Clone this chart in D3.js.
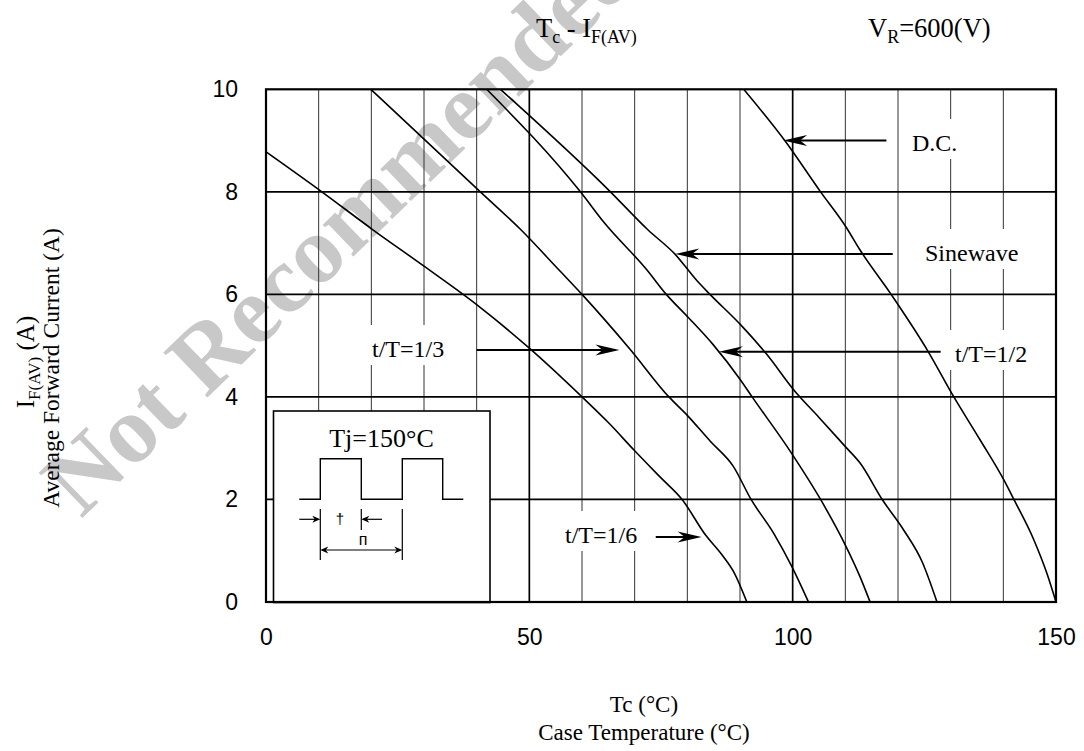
<!DOCTYPE html>
<html>
<head>
<meta charset="utf-8">
<script src="https://cdn.jsdelivr.net/npm/d3@7"></script>
<style>
  html, body { margin: 0; padding: 0; background: #ffffff; }
  svg { display: block; }
</style>
</head>
<body>
<svg id="chart" width="1084" height="751"></svg>
<script>
// Tc - IF(AV) current derating, VR = 600 V, Tj = 150 °C

// axis ticks and grid
const xTickValues = [0, 50, 100, 150];
const yTickValues = [0, 2, 4, 6, 8, 10];
const xGridValues = [10, 20, 30, 40, 50, 60, 70, 80, 90, 100, 110, 120, 130, 140];
const xGridMajor = [50, 100];
const yGridValues = [2, 4, 6, 8];

// case temperature (°C) / average forward current (A), one pair per curve
const dcTc    = [90.7, 98.5, 105.3, 110.1, 112.7, 118.7, 125.7, 130.6, 135.6, 140.1, 142.0, 145.8, 148.3, 150.0];
const dcIf    = [10.0, 9.0, 8.0, 7.32, 6.88, 6.0, 4.89, 4.0, 3.16, 2.38, 2.0, 1.21, 0.55, 0.0];

const sineTc  = [44.5, 65.4, 72.5, 77.7, 81.8, 84.3, 90.1, 95.0, 100.5, 105.0, 110.0, 112.8, 117.0, 121.1, 124.6, 127.4];
const sineIf  = [10.0, 8.0, 7.26, 6.78, 6.27, 6.0, 5.41, 4.84, 4.1, 3.6, 3.03, 2.71, 2.0, 1.40, 0.78, 0.0];

const halfTc  = [41.9, 59.7, 64.2, 72.3, 76.0, 80.0, 84.9, 90.1, 92.3, 99.8, 105.3, 110.0, 112.8, 114.7];
const halfIf  = [10.0, 8.0, 7.4, 6.48, 6.0, 5.57, 5.02, 4.33, 4.0, 2.90, 2.0, 1.11, 0.49, 0.0];

const thirdTc = [19.9, 40.7, 48.4, 55.6, 60.0, 69.2, 76.5, 79.9, 84.4, 88.7, 92.1, 96.4, 99.9, 103.0];
const thirdIf = [10.0, 8.0, 7.26, 6.48, 6.0, 4.92, 4.0, 3.65, 3.13, 2.65, 2.0, 1.34, 0.68, 0.0];

const sixthTc = [0.0, 10.6, 20.3, 30.0, 40.0, 50.0, 60.0, 65.0, 70.0, 75.0, 79.0, 83.5, 86.5, 89.0, 91.3];
const sixthIf = [8.78, 8.0, 7.26, 6.55, 5.8, 4.95, 4.0, 3.5, 2.95, 2.42, 2.0, 1.30, 0.93, 0.55, 0.0];

const seriesNames = ["D.C.", "Sinewave", "t/T=1/2", "t/T=1/3", "t/T=1/6"];
const seriesTc = [dcTc, sineTc, halfTc, thirdTc, sixthTc];
const seriesIf = [dcIf, sineIf, halfIf, thirdIf, sixthIf];

// ---------------------------------------------------------------
const svg = d3.select("#chart");
const W = 1084, H = 751;
const plot = { left: 266, right: 1056, top: 89.3, bottom: 602 };

const x = d3.scaleLinear().domain([0, 150]).range([plot.left, plot.right]);
const y = d3.scaleLinear().domain([0, 10]).range([plot.bottom, plot.top]);

const SERIF = "'Liberation Serif', 'Times New Roman', serif";
const SANS = "'Liberation Sans', Arial, sans-serif";

svg.append("rect").attr("width", W).attr("height", H).attr("fill", "#ffffff");

// watermark (behind everything)
svg.append("text")
  .attr("transform", "translate(362,248) rotate(-44)")
  .attr("text-anchor", "middle")
  .attr("font-family", SERIF)
  .attr("font-weight", "bold")
  .attr("font-size", 96)
  .attr("fill", "#c8c8c8")
  .text("Not Recommended");

const defs = svg.append("defs");
defs.append("clipPath").attr("id", "plot-clip")
  .append("rect")
  .attr("x", plot.left).attr("y", plot.top)
  .attr("width", plot.right - plot.left).attr("height", plot.bottom - plot.top);

// grid
const grid = svg.append("g");
grid.selectAll("line.vg").data(xGridValues).join("line")
  .attr("class", "vg")
  .attr("x1", d => x(d)).attr("x2", d => x(d))
  .attr("y1", plot.top).attr("y2", plot.bottom)
  .attr("stroke", d => xGridMajor.includes(d) ? "#000" : "#333")
  .attr("stroke-width", d => xGridMajor.includes(d) ? 1.7 : 1);
grid.selectAll("line.hg").data(yGridValues).join("line")
  .attr("class", "hg")
  .attr("x1", plot.left).attr("x2", plot.right)
  .attr("y1", d => y(d)).attr("y2", d => y(d))
  .attr("stroke", "#000").attr("stroke-width", 1.7);

// tick labels through d3 axes (no tick marks, no domain path)
const xAxis = svg.append("g")
  .attr("transform", `translate(0,${plot.bottom})`)
  .call(d3.axisBottom(x).tickValues(xTickValues).tickSize(0).tickPadding(27).tickFormat(d3.format("d")));
const yAxis = svg.append("g")
  .attr("transform", `translate(${plot.left},0)`)
  .call(d3.axisLeft(y).tickValues(yTickValues).tickSize(0).tickPadding(28).tickFormat(d3.format("d")));
[xAxis, yAxis].forEach(a => {
  a.select(".domain").remove();
  a.selectAll("text").attr("font-family", SANS).attr("font-size", 23).attr("fill", "#000");
});

// curve labels with white backing that interrupts the grid
const annotations = [
  { name: "D.C.",     tx: 912, ty: 151, tail: [117.8, 9.0],  tip: [98.2, 9.0] },
  { name: "Sinewave", tx: 925, ty: 261, tail: [119.0, 6.79], tip: [77.7, 6.79] },
  { name: "t/T=1/2",  tx: 955, ty: 362, tail: [128.1, 4.88], tip: [86.0, 4.88] },
  { name: "t/T=1/3",  tx: 372, ty: 357, tail: [40.0, 4.915], tip: [67.1, 4.915] },
  { name: "t/T=1/6",  tx: 565, ty: 543, tail: [74.0, 1.27],  tip: [82.7, 1.27] }
];

const ann = svg.append("g");
annotations.forEach(a => {
  const t = ann.append("text")
    .attr("x", a.tx).attr("y", a.ty)
    .attr("font-family", SERIF).attr("font-size", 24).attr("fill", "#000")
    .text(a.name);
  const bb = t.node().getBBox();
  ann.insert("rect", "text")
    .attr("x", bb.x - 12).attr("y", a.ty - 32)
    .attr("width", bb.width + 24).attr("height", 40)
    .attr("fill", "#fff");
});

// inset: Tj and pulse waveform definition
const inset = svg.append("g");
inset.append("rect")
  .attr("x", 273.5).attr("y", 411).attr("width", 216.5).attr("height", 191.5)
  .attr("fill", "#fff").attr("stroke", "#000").attr("stroke-width", 1.6);
inset.append("text")
  .attr("x", 381.5).attr("y", 447).attr("text-anchor", "middle")
  .attr("font-family", SERIF).attr("font-size", 26).attr("fill", "#000")
  .text("Tj=150°C");
const lo = 499.3, hi = 458.7;
const e = [299.3, 320.3, 361.3, 402.3, 442.7, 463.3];
inset.append("path")
  .attr("d", `M${e[0]},${lo}H${e[1]}V${hi}H${e[2]}V${lo}H${e[3]}V${hi}H${e[4]}V${lo}H${e[5]}`)
  .attr("fill", "none").attr("stroke", "#000").attr("stroke-width", 1.4);
inset.append("path")
  .attr("d", `M${e[1]},509V560M${e[2]},509V530M${e[3]},509V560`)
  .attr("fill", "none").attr("stroke", "#000").attr("stroke-width", 1.2);

function arrowHead(g, tipX, tipY, dir, len, half) {
  // dir: +1 points right, -1 points left
  const bx = tipX - dir * len, nx = tipX - dir * len * 0.7;
  g.append("path")
    .attr("d", `M${tipX},${tipY}L${bx},${tipY - half}L${nx},${tipY}L${bx},${tipY + half}Z`)
    .attr("fill", "#000");
}
inset.append("line").attr("x1", 299.3).attr("x2", 318).attr("y1", 519.3).attr("y2", 519.3)
  .attr("stroke", "#000").attr("stroke-width", 1.2);
arrowHead(inset, 320.3, 519.3, 1, 8, 3.5);
inset.append("line").attr("x1", 382).attr("x2", 363).attr("y1", 519.3).attr("y2", 519.3)
  .attr("stroke", "#000").attr("stroke-width", 1.2);
arrowHead(inset, 361.3, 519.3, -1, 8, 3.5);
inset.append("line").attr("x1", 322).attr("x2", 400).attr("y1", 550).attr("y2", 550)
  .attr("stroke", "#000").attr("stroke-width", 1.2);
arrowHead(inset, 320.3, 550, -1, 8, 3.5);
arrowHead(inset, 402.3, 550, 1, 8, 3.5);
inset.append("text").attr("x", 340).attr("y", 524).attr("text-anchor", "middle")
  .attr("font-family", SANS).attr("font-size", 15).attr("fill", "#000").text("†");
inset.append("text").attr("x", 363).attr("y", 545).attr("text-anchor", "middle")
  .attr("font-family", SANS).attr("font-size", 16).attr("fill", "#000").text("п");

// plot border
svg.append("rect")
  .attr("x", plot.left).attr("y", plot.top)
  .attr("width", plot.right - plot.left).attr("height", plot.bottom - plot.top)
  .attr("fill", "none").attr("stroke", "#000").attr("stroke-width", 2.2);

// derating curves
const line = d3.line()
  .x(d => x(d[0])).y(d => y(d[1]))
  .curve(d3.curveMonotoneX);
const curves = svg.append("g").attr("clip-path", "url(#plot-clip)");
seriesNames.forEach((name, i) => {
  const pts = seriesTc[i].map((t, k) => [t, seriesIf[i][k]]);
  curves.append("path")
    .datum(pts)
    .attr("d", line)
    .attr("fill", "none")
    .attr("stroke", "#000")
    .attr("stroke-width", 1.6);
});

// annotation arrows
annotations.forEach(a => {
  const x0 = x(a.tail[0]), x1 = x(a.tip[0]), yy = y(a.tip[1]);
  const dir = x1 > x0 ? 1 : -1;
  ann.append("line")
    .attr("x1", x0).attr("x2", x1 - dir * 14)
    .attr("y1", yy).attr("y2", yy)
    .attr("stroke", "#000").attr("stroke-width", 2);
  arrowHead(ann, x1, yy, dir, 24, 5.5);
});

// titles
function subText(g, xPos, yPos, parts, size, anchor) {
  const t = g.append("text")
    .attr("x", xPos).attr("y", yPos)
    .attr("font-family", SERIF).attr("font-size", size).attr("fill", "#000")
    .attr("text-anchor", anchor || "start");
  let shifted = false;
  parts.forEach(p => {
    const ts = t.append("tspan").text(p.s);
    if (p.sub && !shifted) { ts.attr("font-size", size * 0.68).attr("dy", size * 0.22); shifted = true; }
    else if (!p.sub && shifted) { ts.attr("font-size", size).attr("dy", -size * 0.22); shifted = false; }
  });
  return t;
}
const titles = svg.append("g");
subText(titles, 536, 37, [{ s: "T" }, { s: "c", sub: true }, { s: " - I" }, { s: "F(AV)", sub: true }], 26.5);
subText(titles, 868, 37, [{ s: "V" }, { s: "R", sub: true }, { s: "=600(V)" }], 26.5);

titles.append("text")
  .attr("x", 644).attr("y", 712).attr("text-anchor", "middle")
  .attr("font-family", SERIF).attr("font-size", 23).attr("fill", "#000")
  .text("Tc (°C)");
titles.append("text")
  .attr("x", 644).attr("y", 740).attr("text-anchor", "middle")
  .attr("font-family", SERIF).attr("font-size", 23).attr("fill", "#000")
  .text("Case Temperature (°C)");

const yt1 = titles.append("g").attr("transform", "translate(34,362) rotate(-90)");
subText(yt1, 0, 0, [{ s: "I" }, { s: "F(AV)", sub: true }, { s: " (A)" }], 25, "middle");
titles.append("text")
  .attr("transform", "translate(59,368) rotate(-90)")
  .attr("text-anchor", "middle")
  .attr("font-family", SERIF).attr("font-size", 23.5).attr("fill", "#000")
  .text("Average Forward Current (A)");
</script>
</body>
</html>
